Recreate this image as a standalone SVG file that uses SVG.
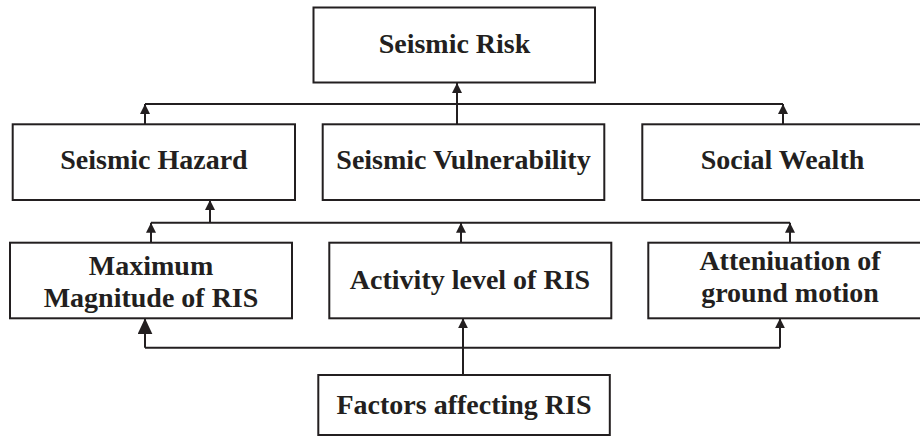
<svg xmlns="http://www.w3.org/2000/svg" width="920" height="439" viewBox="0 0 920 439">
<style>
.box{fill:#fff;stroke:#231f20;stroke-width:2}
.lbl{font-family:"Liberation Serif","Times New Roman",serif;font-weight:bold;font-size:28px;fill:#231f20;text-anchor:middle}
.con{fill:none;stroke:#231f20;stroke-width:2}
</style>
<defs>
<marker id="arr" markerUnits="userSpaceOnUse" markerWidth="10" markerHeight="10" viewBox="0 0 10 10" refX="10" refY="5" orient="auto">
<path d="M0,0 L10,5 L0,10 Z" fill="#231f20"/>
</marker>
<marker id="arrBig" markerUnits="userSpaceOnUse" markerWidth="16" markerHeight="15" viewBox="0 0 10 10" refX="10" refY="5" orient="auto" preserveAspectRatio="none">
<path d="M0,0 L10,5 L0,10 Z" fill="#231f20"/>
</marker>
</defs>
<g id="connectors">
<path class="con" d="M145,104 H783"/>
<path class="con" d="M145,124 V104" marker-end="url(#arr)"/>
<path class="con" d="M783,124 V104" marker-end="url(#arr)"/>
<path class="con" d="M457,124 V83" marker-end="url(#arr)"/>
<path class="con" d="M151,222.7 H790"/>
<path class="con" d="M210,222.7 V200" marker-end="url(#arr)"/>
<path class="con" d="M151,242.7 V222.7" marker-end="url(#arr)"/>
<path class="con" d="M461,242.7 V222.7" marker-end="url(#arr)"/>
<path class="con" d="M790,242.7 V222.7" marker-end="url(#arr)"/>
<path class="con" d="M145,347.7 H780"/>
<path class="con" d="M145,347.7 V318.3" marker-end="url(#arrBig)"/>
<path class="con" d="M780,347.7 V318.3" marker-end="url(#arr)"/>
<path class="con" d="M463,375 V318.3" marker-end="url(#arr)"/>
</g>
<g id="seismic-risk">
<rect class="box" x="313.5" y="7.5" width="281.5" height="75"/>
<text class="lbl" x="454.5" y="53">Seismic Risk</text>
</g>
<g id="seismic-hazard">
<rect class="box" x="12.7" y="124.3" width="282.3" height="75.7"/>
<text class="lbl" x="154" y="169">Seismic Hazard</text>
</g>
<g id="seismic-vulnerability">
<rect class="box" x="322.7" y="124.3" width="281.6" height="75.7"/>
<text class="lbl" x="463.5" y="169">Seismic Vulnerability</text>
</g>
<g id="social-wealth">
<rect class="box" x="642.3" y="124.3" width="281" height="75.7"/>
<text class="lbl" x="782.5" y="169">Social Wealth</text>
</g>
<g id="maximum-magnitude">
<rect class="box" x="10" y="242.7" width="282" height="75.6"/>
<text class="lbl" x="151" y="275">Maximum</text>
<text class="lbl" x="151" y="307">Magnitude of RIS</text>
</g>
<g id="activity-level">
<rect class="box" x="329.3" y="242.7" width="282" height="75.6"/>
<text class="lbl" x="470" y="289.3">Activity level of RIS</text>
</g>
<g id="attenuation">
<rect class="box" x="648.3" y="242.7" width="284" height="75.6"/>
<text class="lbl" x="790" y="270">Atteniuation of</text>
<text class="lbl" x="790" y="301.7">ground motion</text>
</g>
<g id="factors">
<rect class="box" x="318.3" y="375" width="291.5" height="60"/>
<text class="lbl" x="464" y="414">Factors affecting RIS</text>
</g>
</svg>
